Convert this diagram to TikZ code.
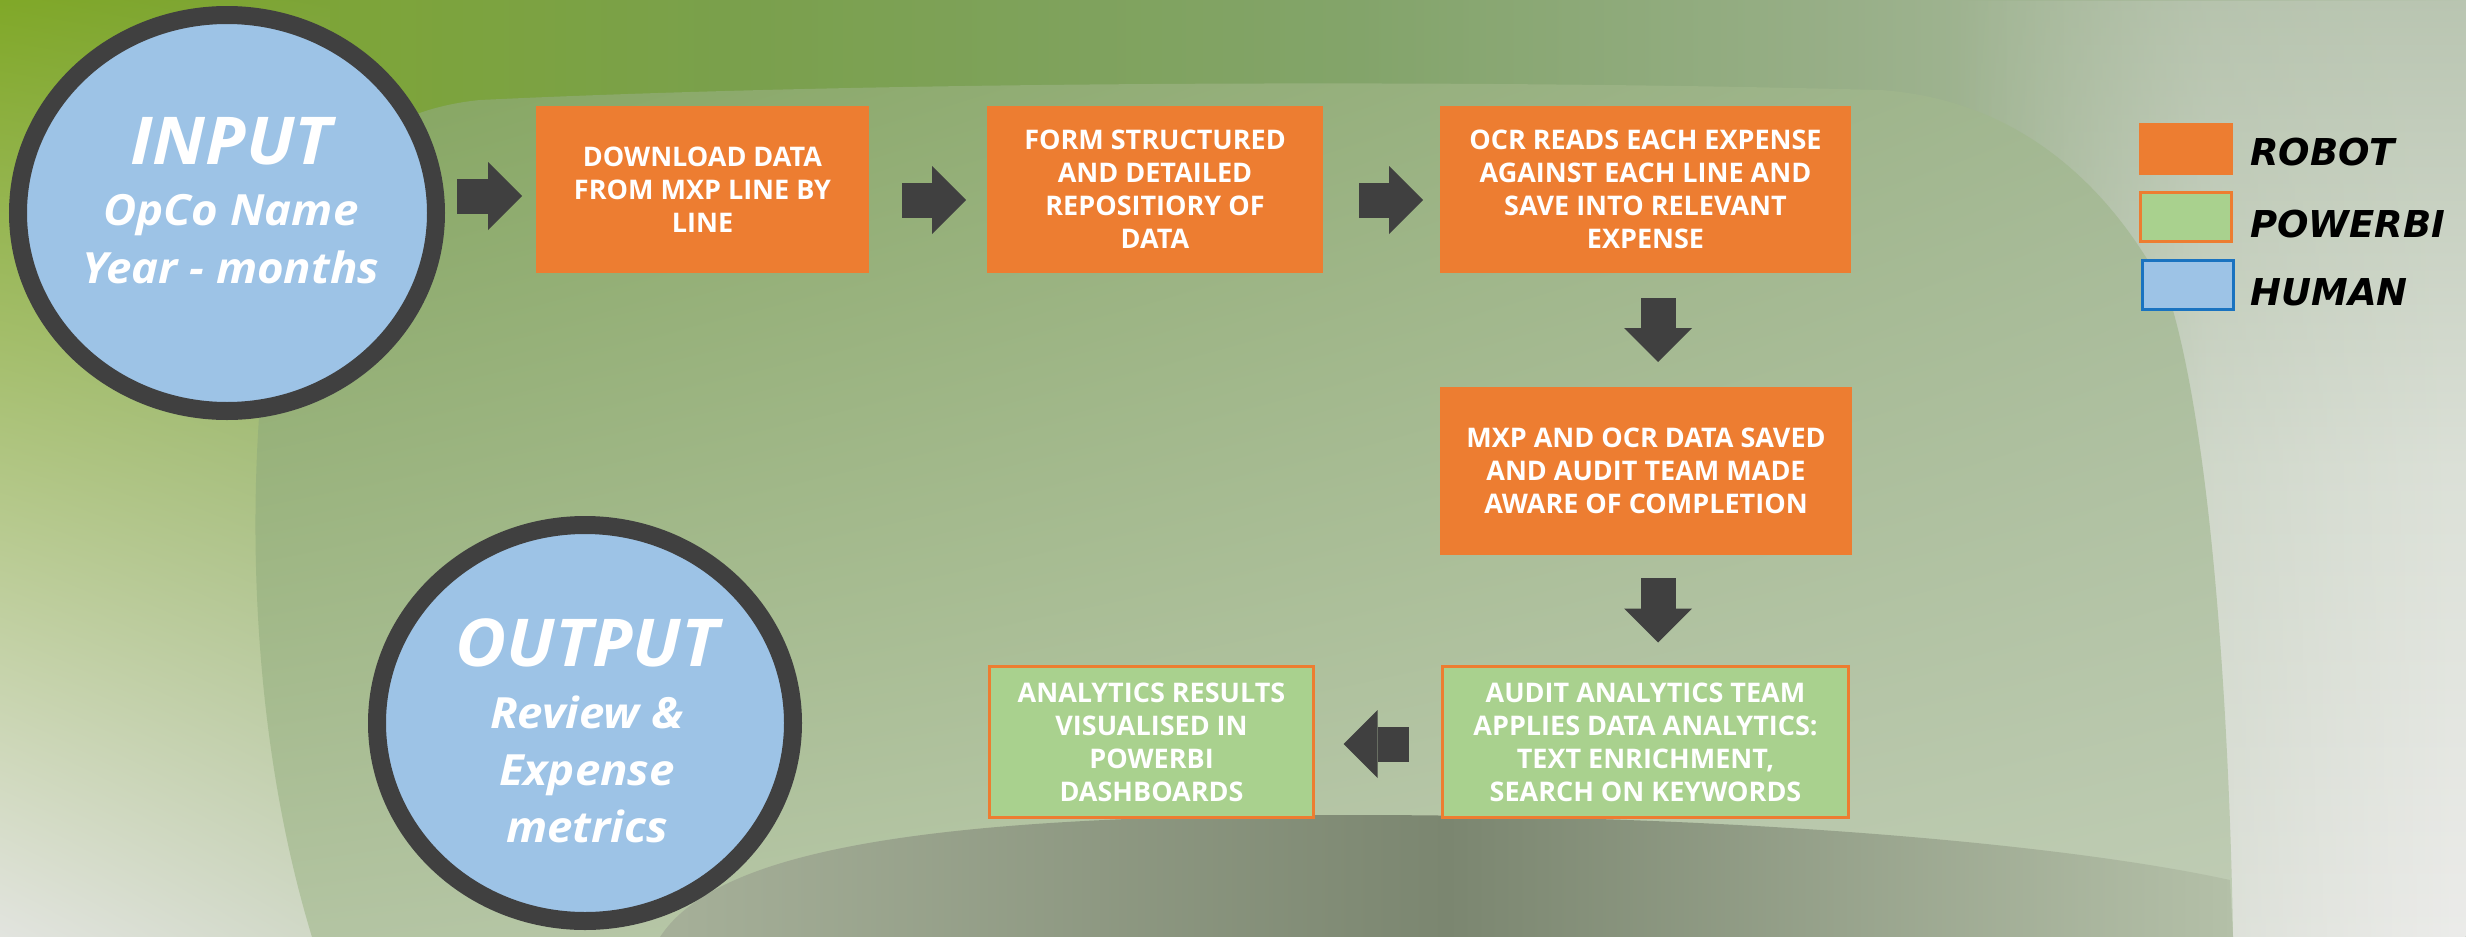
\documentclass[tikz,border=0pt]{standalone}
\usepackage{fontspec}
\newfontfamily\boxfont{Open Sans}
\newfontfamily\circfont{Open Sans}[FakeStretch=1.06]
\newfontfamily\legfont{DejaVu Sans}[BoldFont={* Bold},ItalicFont={* Oblique},BoldItalicFont={* Bold Oblique}]
\usetikzlibrary{arrows.meta,shapes.geometric,calc,shadings,fadings}
\definecolor{orng}{HTML}{ED7D31}
\definecolor{pgreen}{HTML}{A9D18E}
\definecolor{hblue}{HTML}{9DC3E6}
\definecolor{hborder}{HTML}{1A73C0}
\definecolor{dgray}{HTML}{404040}
% top band (x 0..2466)
\definecolor{tb0}{HTML}{80A828}
\definecolor{tb1}{HTML}{7AA04C}
\definecolor{tb2}{HTML}{83A46A}
\definecolor{tb3}{HTML}{98AF88}
\definecolor{tb4}{HTML}{ACBCA1}
\definecolor{tb5}{HTML}{B8C5B0}
\pgfdeclarehorizontalshading{topband}{100bp}{color(0bp)=(tb0); color(25bp)=(tb0); color(40bp)=(tb1); color(52.5bp)=(tb2); color(62.5bp)=(tb3); color(70bp)=(tb4); color(75bp)=(tb5); color(100bp)=(tb5)}
% left outside
\definecolor{loUL}{HTML}{80A828}
\definecolor{loUR}{HTML}{7DA438}
\definecolor{loLL}{HTML}{E2E4DF}
\definecolor{loLR}{HTML}{D0D8C6}
% right outside
\definecolor{roT}{HTML}{BAC6B2}
\definecolor{roM}{HTML}{DCE1D8}
\definecolor{roB}{HTML}{ECECEA}
\tikzfading[name=rfade, left color=transparent!100, right color=transparent!0, middle color=transparent!25]
% blob
\definecolor{blUL}{HTML}{84A55E}
\definecolor{blUR}{HTML}{A4B895}
\definecolor{blLL}{HTML}{B3C4A2}
\definecolor{blLR}{HTML}{C0CDB5}
% dome
\definecolor{domeL}{HTML}{A6B099}
\definecolor{domeM}{HTML}{7B8670}
\definecolor{domeR}{HTML}{B4C0A8}
\tikzset{
  robotbox/.style={rectangle, fill=orng, inner sep=0pt, outer sep=0pt, text=white, align=center,
    font=\boxfont\bfseries\fontsize{27}{33}\selectfont},
  pbibox/.style={rectangle, fill=pgreen, draw=orng, line width=3pt, inner sep=0pt, outer sep=0pt, text=white, align=center,
    font=\boxfont\bfseries\fontsize{27}{33}\selectfont},
  humancircle/.style={ellipse, fill=hblue, draw=dgray, line width=18pt, inner sep=0pt, outer sep=0pt,
    minimum width=418pt, minimum height=396pt},
  circtext/.style={inner sep=0pt, text=white, align=center,
    font=\circfont\bfseries\itshape\fontsize{43}{58}\selectfont},
  barrow/.style={draw=dgray, line width=35pt,
    -{Triangle[length=34pt,width=68pt,line width=0pt]}},
  legtext/.style={anchor=base west, inner sep=0pt, text=black,
    font=\legfont\bfseries\itshape\fontsize{37}{40}\selectfont},
}
\begin{document}
\begin{tikzpicture}[x=1pt,y=-1pt]
\useasboundingbox (0,0) rectangle (2466,937);
% background
\shade[shading=topband] (0,0) rectangle (2466,937);
\shade[top color=roT, bottom color=roB, middle color=roM, path fading=rfade] (1950,0) rectangle (2466,937);
\shade[upper left=loUL, upper right=loUR, lower left=loLL, lower right=loLR] (0,0) rectangle (330,937);
\shade[upper left=blUL, upper right=blUR, lower left=blLL, lower right=blLR]
  (312,937) .. controls (255,750) and (250,550) .. (259,418)
  .. controls (270,230) and (330,115) .. (480,100)
  .. controls (900,80) and (1500,80) .. (1880,90)
  .. controls (2030,100) and (2120,200) .. (2170,300)
  .. controls (2215,450) and (2230,750) .. (2233,937) -- cycle;
\shade[left color=domeL, right color=domeR, middle color=domeM]
  (660,937) .. controls (720,845) and (950,815) .. (1350,815)
  .. controls (1750,815) and (2070,845) .. (2230,880) -- (2233,937) -- cycle;

% circles
\node[humancircle] (in) at (227,213) {};
\node[circtext] (inT) at (231,201) {{\fontsize{66}{60}\selectfont INPUT}\\[3pt]OpCo Name\\Year - months};
\node[humancircle, minimum width=416pt] (out) at (585,723) {};
\node[circtext, font=\circfont\bfseries\itshape\fontsize{43}{57}\selectfont] (outT) at (587,731) {{\fontsize{66}{60}\selectfont OUTPUT}\\[5pt]Review \&\\Expense\\metrics};

% process boxes
\node[robotbox, minimum width=333pt, minimum height=167pt] (b1) at (702.5,189.5) {DOWNLOAD DATA\\FROM MXP LINE BY\\LINE};
\node[robotbox, minimum width=336pt, minimum height=167pt] (b2) at (1155,189.5) {FORM STRUCTURED\\AND DETAILED\\REPOSITIORY OF\\DATA};
\node[robotbox, minimum width=411pt, minimum height=167pt] (b3) at (1645.5,189.5) {OCR READS EACH EXPENSE\\AGAINST EACH LINE AND\\SAVE INTO RELEVANT\\EXPENSE};
\node[robotbox, minimum width=412pt, minimum height=168pt] (b4) at (1646,471) {MXP AND OCR DATA SAVED\\AND AUDIT TEAM MADE\\AWARE OF COMPLETION};
\node[pbibox, minimum width=406pt, minimum height=151pt] (b5) at (1645.5,742) {AUDIT ANALYTICS TEAM\\APPLIES DATA ANALYTICS:\\TEXT ENRICHMENT,\\SEARCH ON KEYWORDS};
\node[pbibox, minimum width=324pt, minimum height=151pt] (b6) at (1151.5,742) {ANALYTICS RESULTS\\VISUALISED IN\\POWERBI\\DASHBOARDS};

% block arrows
\draw[barrow, shorten <=21pt, shorten >=14pt] (in.east |- 0,196) -- (b1.west |- 0,196);
\draw[barrow, shorten <=33pt, shorten >=21pt] (b1.east |- 0,200) -- (b2.west |- 0,200);
\draw[barrow, shorten <=36pt, shorten >=17pt] (b2.east |- 0,200) -- (b3.west |- 0,200);
\draw[barrow, shorten <=25pt, shorten >=25pt] (b3.south -| 1658,0) -- (b4.north -| 1658,0);
\draw[barrow, shorten <=23pt, shorten >=24pt] (b4.south -| 1658,0) -- (b5.north -| 1658,0);
\draw[barrow, shorten <=34pt, shorten >=30pt] (b5.west |- 0,744) -- (b6.east |- 0,744);

% legend
\node[rectangle, fill=orng, inner sep=0pt, outer sep=0pt, minimum width=94pt, minimum height=52pt] (lr) at (2186,149) {};
\node[rectangle, fill=pgreen, draw=orng, line width=3pt, inner sep=0pt, outer sep=0pt, minimum width=91pt, minimum height=49pt] (lp) at (2186,217) {};
\node[rectangle, fill=hblue, draw=hborder, line width=3pt, inner sep=0pt, outer sep=0pt, minimum width=91pt, minimum height=49pt] (lh) at (2188,285) {};
\node[legtext] (lrT) at (2250,165) {ROBOT};
\node[legtext] (lpT) at (2250,237) {POWERBI};
\node[legtext] (lhT) at (2250,305) {HUMAN};
\end{tikzpicture}
\end{document}
